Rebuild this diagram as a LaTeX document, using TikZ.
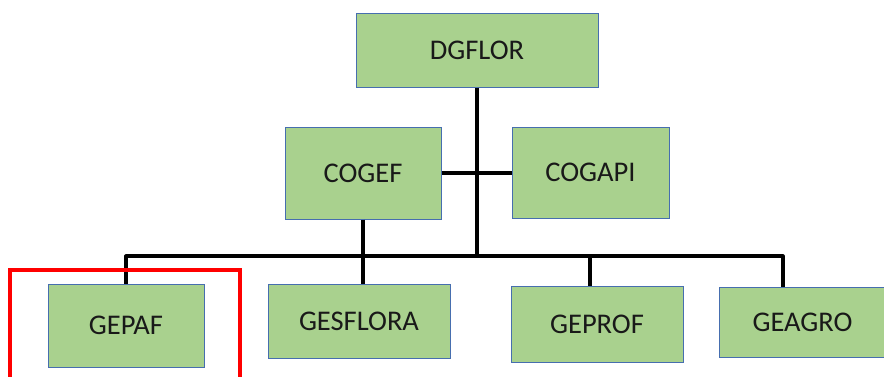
\documentclass[tikz,border=0pt]{standalone}
\usepackage{fontspec}
\setmainfont{Carlito}
\definecolor{boxgreen}{HTML}{A9D18E}
\definecolor{boxedge}{RGB}{70,110,175}
\tikzset{
  unit/.style={draw=boxedge, line width=1pt, fill=boxgreen, inner sep=0pt,
    font=\fontsize{28.5}{34}\selectfont, text=black!90},
  link/.style={line width=3.2pt, line join=round}
}
\begin{document}
\begin{tikzpicture}[x=1pt, y=-1pt]
\useasboundingbox (0,0) rectangle (884,376);

% Top level
\node[unit, minimum width=242pt, minimum height=74pt] (dgflor) at (477,50) {DGFLOR};

% Coordinations
\node[unit, minimum width=156pt, minimum height=92pt] (cogef) at (363,173) {COGEF};
\node[unit, minimum width=157pt, minimum height=91pt] (cogapi) at (590.5,172.5) {COGAPI};

% Management units
\node[unit, minimum width=156pt, minimum height=83pt] (gepaf) at (126,325.5) {GEPAF};
\node[unit, minimum width=182pt, minimum height=74pt] (gesflora) at (359,321) {GESFLORA};
\node[unit, minimum width=172pt, minimum height=76pt] (geprof) at (597,324) {GEPROF};
\node[unit, minimum width=167pt, minimum height=70pt] (geagro) at (802.5,322) {GEAGRO};

% Bus
\coordinate (busL) at (126,256);
\coordinate (busM) at (477,256);
\coordinate (busR) at (783,256);
\coordinate (tapprof) at (590,256);

\draw[link] (dgflor.south) -- (busM);
\draw[link] (cogef.east) -- (cogef.east -| cogapi.west);
\draw[link] (gepaf.north) -- (busL) -- (busR) -- (busR |- geagro.north);
\draw[link] (cogef.south) -- (cogef.south |- gesflora.north);
\draw[link] (tapprof) -- (tapprof |- geprof.north);

% Highlight
\draw[red, line width=4pt] (10,270) rectangle (240,392);
\end{tikzpicture}
\end{document}
